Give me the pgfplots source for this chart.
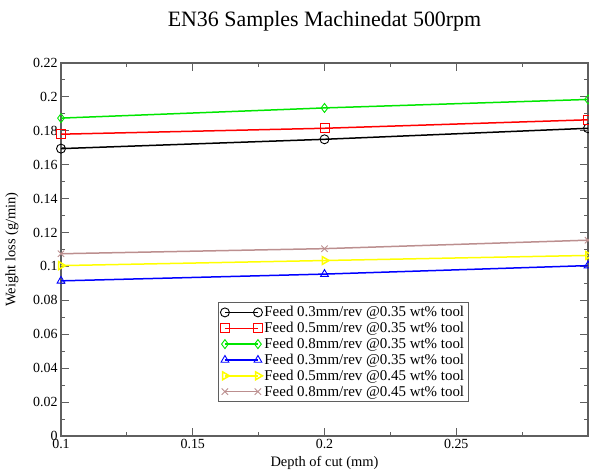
\documentclass[border=0pt]{standalone}
\usepackage{pgfplots}
\pgfplotsset{compat=1.18}
\usepackage{fontspec}
\setmainfont{Liberation Serif}
\definecolor{gbrown}{RGB}{188,143,143}
\definecolor{ggreen}{RGB}{0,230,0}
\definecolor{gyellow}{RGB}{255,255,0}
\definecolor{axgray}{RGB}{95,95,95}

\begin{document}
\begin{tikzpicture}
\begin{axis}[
  name=ax, at={(0,0)}, anchor=south west,
  width=527bp, height=373bp, scale only axis,
  xmin=0.1, xmax=0.3, ymin=0, ymax=0.22,
  xtick={0.1,0.15,0.2,0.25},
  minor xtick={0.125,0.175,0.225,0.275},
  ytick={0,0.02,0.04,0.06,0.08,0.1,0.12,0.14,0.16,0.18,0.2,0.22},
  minor ytick={0.01,0.03,0.05,0.07,0.09,0.11,0.13,0.15,0.17,0.19,0.21},
  scaled ticks=false,
  /pgf/number format/fixed, /pgf/number format/precision=2,
  /pgf/number format/assume math mode=true,
  tick align=inside, major tick length=8bp, minor tick length=4bp,
  axis line style={axgray, line width=1.3bp},
  every tick/.style={axgray, line width=1bp},
  tick label style={font=\fontsize{14}{16}\selectfont},
  label style={font=\fontsize{14.5}{16}\selectfont},
  xlabel={Depth of cut (mm)}, ylabel={Weight loss (g/min)},
  xlabel style={at={(axis description cs:0.5,-0.072)}, anchor=center},
  ylabel style={at={(axis description cs:-0.093,0.5)}, anchor=center},
  legend style={at={(0.298,0.359)}, anchor=north west, draw=axgray,
    line width=0.8bp, font=\fontsize{15}{15}\selectfont,
    row sep=0bp, inner sep=2bp},
  legend cell align=left,
  legend image code/.code={\draw plot coordinates {(0bp,0bp) (33bp,0bp)};},
  every axis plot/.append style={line width=1.5bp, mark size=4.5bp,
    mark options={line width=0.9bp, solid, fill=none}},
]
\addplot[black, mark=o] coordinates {(0.1,0.1695) (0.2,0.175) (0.3,0.1815)};
\addlegendentry{Feed 0.3mm/rev @0.35 wt\% tool}
\addplot[red, mark=square] coordinates {(0.1,0.178) (0.2,0.1815) (0.3,0.1865)};
\addlegendentry{Feed 0.5mm/rev @0.35 wt\% tool}
\addplot[ggreen, mark=diamond] coordinates {(0.1,0.1875) (0.2,0.1935) (0.3,0.1985)};
\addlegendentry{Feed 0.8mm/rev @0.35 wt\% tool}
\addplot[blue, mark=triangle] coordinates {(0.1,0.0915) (0.2,0.0955) (0.3,0.1005)};
\addlegendentry{Feed 0.3mm/rev @0.35 wt\% tool}
\addplot[gyellow, mark=triangle, mark options={rotate=-90}] coordinates {(0.1,0.1005) (0.2,0.1035) (0.3,0.1065)};
\addlegendentry{Feed 0.5mm/rev @0.45 wt\% tool}
\addplot[gbrown, mark=x] coordinates {(0.1,0.1075) (0.2,0.1105) (0.3,0.1155)};
\addlegendentry{Feed 0.8mm/rev @0.45 wt\% tool}
\end{axis}
\node[anchor=base, font=\fontsize{22}{26}\selectfont] at (263.5bp,409bp) {EN36 Samples Machinedat 500rpm};
\pgfresetboundingbox
\path[use as bounding box] (-61bp,-37bp) rectangle (528bp,436bp);
\end{tikzpicture}
\end{document}
